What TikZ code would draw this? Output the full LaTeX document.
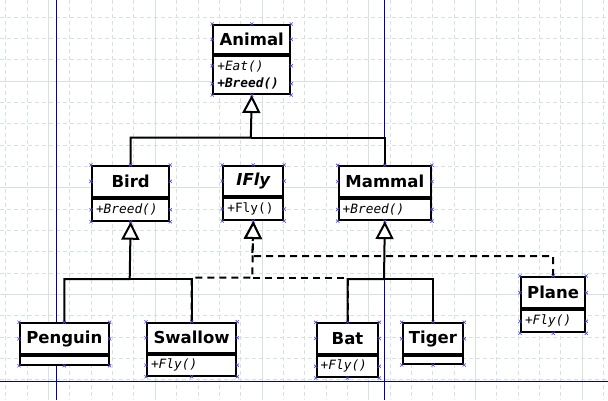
\documentclass[tikz,border=0pt]{standalone}
\usepackage{fontspec}
\setmainfont{DejaVu Sans}
\newfontfamily\monof{DejaVu Sans Mono}
\usetikzlibrary{arrows.meta,calc}
\definecolor{gridc}{RGB}{214,226,222}
\definecolor{pagec}{RGB}{0,0,170}
\definecolor{cpc}{RGB}{70,70,230}
\tikzset{
  gridmin/.style={draw=gridc, line width=0.9pt, dash pattern=on 4pt off 3pt},
  gridmaj/.style={draw=gridc, line width=1pt},
  pagebrk/.style={draw=pagec, line width=1pt},
  namebox/.style={draw, line width=2pt, fill=white, inner sep=0pt, anchor=north west,
    font=\fontsize{16.5}{19}\selectfont\bfseries},
  attrbox/.style={draw, line width=2pt, fill=white, inner ysep=0pt, inner xsep=4pt, align=left,
    font=\monof\fontsize{12.8}{17.7}\selectfont},
  gen/.style={draw, line width=2pt, -{Triangle[length=18pt,width=18pt,fill=white,line width=2pt]}},
  genline/.style={draw, line width=2pt},
  real/.style={draw, line width=2pt, dash pattern=on 7pt off 5pt,
    -{Triangle[length=18pt,width=18pt,fill=white,line width=2pt]}},
  realline/.style={draw, line width=2pt, dash pattern=on 7pt off 5pt},
  cpst/.style={draw=cpc, line width=0.6pt}
}
\newcommand\cpmark[1]{\draw[cpst,shift={(#1)}] (-1.6,-1.6) -- (1.6,1.6) (-1.6,1.6) -- (1.6,-1.6);}
% #1 id, #2 x, #3 y, #4 w, #5 name height, #6 attr height, #7 name, #8 attrs
\newcommand\umlcls[8]{%
  \pgfmathsetmacro\umltw{#4-8}%
  \node[namebox, minimum width=#4pt, minimum height=#5pt] (#1) at (#2,#3) {#7};
  \node[attrbox, minimum width=#4pt, minimum height=#6pt, text width=\umltw pt, anchor=north] (#1A) at (#1.south) {#8};
}
\begin{document}
\begin{tikzpicture}[x=1pt,y=-1pt]
\useasboundingbox (0,0) rectangle (608,400);
\fill[white] (0,0) rectangle (608,400);
% grid
\foreach \k in {-2,...,26}{
  \pgfmathsetmacro\gx{48.5+21.35*\k}
  \pgfmathtruncatemacro\m{mod(\k+10,5)}
  \ifnum\m=0 \draw[gridmaj] (\gx,0) -- (\gx,400); \else \draw[gridmin] (\gx,0) -- (\gx,400); \fi
}
\foreach \k in {-4,...,15}{
  \pgfmathsetmacro\gy{81+21.35*\k}
  \pgfmathtruncatemacro\m{mod(\k+10,5)}
  \ifnum\m=0 \draw[gridmaj] (0,\gy) -- (608,\gy); \else \draw[gridmin] (0,\gy) -- (608,\gy); \fi
}
% page breaks
\draw[pagebrk] (56.5,0) -- (56.5,400);
\draw[pagebrk] (384.3,0) -- (384.3,400);
\draw[pagebrk] (0,381.7) -- (608,381.7);
% classes
\umlcls{animal}{212.3}{24}{77}{28.7}{38.3}{Animal}{\itshape +Eat()\\ \bfseries\itshape +Breed()}
\umlcls{bird}{91}{165}{77.3}{30.7}{22}{Bird}{\itshape +Breed()}
\umlcls{ifly}{222.3}{165}{60}{30}{22}{\itshape IFly}{+Fly()}
\umlcls{mammal}{337.7}{165.3}{92.3}{30.4}{21.4}{Mammal}{\itshape +Breed()}
\umlcls{penguin}{19}{322.3}{88.7}{31}{8.4}{Penguin}{}
\umlcls{swallow}{146}{321.7}{89.3}{30}{21}{Swallow}{\itshape +Fly()}
\umlcls{bat}{315.7}{322.3}{61.6}{30.4}{21.3}{Bat}{\itshape +Fly()}
\umlcls{tiger}{401.7}{322.3}{60.6}{31}{7.7}{Tiger}{}
\umlcls{plane}{520}{276}{64.3}{31.3}{22}{Plane}{\itshape +Fly()}
% junctions
\coordinate (jAnimal) at (250.8,137.7);
\coordinate (jBird) at (129.7,279);
\coordinate (jMammal) at (384,279);
\coordinate (jIFly) at (252.3,277.5);
\coordinate (jPlane) at (252.3,256);
% generalizations
\draw[gen] (bird.north) |- (jAnimal) -- (animalA.south);
\draw[genline] (mammal.north) |- (jAnimal);
\draw[gen] (penguin.north) |- (jBird) -- (birdA.south);
\draw[genline] (swallow.north) |- (jBird);
\draw[gen] (bat.north) |- (jMammal) -- (mammalA.south);
\draw[genline] (tiger.north) |- (jMammal);
% realizations
\draw[real] (plane.north) |- (jPlane) -- (iflyA.south);
\draw[real] (swallow.north) |- (jIFly) -- (iflyA.south);
\draw[realline] (bat.north) |- (jIFly);
% connection points
\foreach \c in {animal,bird,ifly,mammal,penguin,swallow,bat,tiger,plane}{
  \foreach \a in {north west,north,north east,west,east}{\cpmark{\c.\a}}
  \foreach \a in {south west,south,south east}{\cpmark{\c A.\a}}
}
\foreach \c in {bird,ifly,mammal,swallow,bat,plane}{
  \cpmark{\c A.west}\cpmark{\c A.east}
}
\cpmark{$(animalA.west)+(0,-9)$}\cpmark{$(animalA.east)+(0,-9)$}
\cpmark{$(animalA.west)+(0,9)$}\cpmark{$(animalA.east)+(0,9)$}
\end{tikzpicture}
\end{document}
